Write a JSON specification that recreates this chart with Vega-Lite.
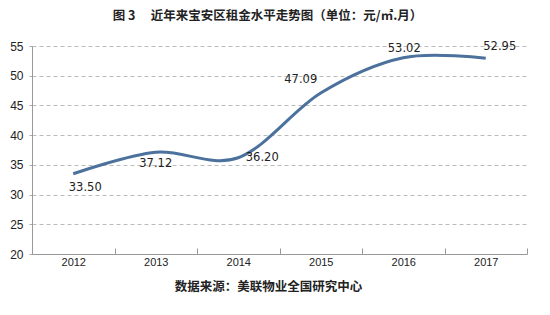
{
  "$schema": "https://vega.github.io/schema/vega-lite/v6.json",
  "autosize": "none",
  "width": 495,
  "height": 208,
  "padding": {"left": 32, "top": 46, "right": 23, "bottom": 61},
  "background": "white",
  "title": {
    "text": "图 3\u3000 近年来宝安区租金水平走势图（单位：元/㎡.月）",
    "font": "Noto Sans CJK SC",
    "fontSize": 12.5,
    "fontWeight": "bold",
    "color": "#222222",
    "anchor": "middle",
    "dx": -12,
    "offset": 18
  },
  "data": {
    "values": [
      {"year": "2012", "rent": 33.50, "label": "33.50"},
      {"year": "2013", "rent": 37.12, "label": "37.12"},
      {"year": "2014", "rent": 36.20, "label": "36.20"},
      {"year": "2015", "rent": 47.09, "label": "47.09"},
      {"year": "2016", "rent": 53.02, "label": "53.02"},
      {"year": "2017", "rent": 52.95, "label": "52.95"}
    ]
  },
  "encoding": {
    "x": {
      "field": "year",
      "type": "ordinal",
      "scale": {"paddingInner": 0, "paddingOuter": 0},
      "axis": {
        "title": "数据来源：美联物业全国研究中心",
        "titleFont": "Noto Sans CJK SC",
        "titleFontSize": 12.5,
        "titleFontWeight": "bold",
        "titleColor": "#222222",
        "titlePadding": 13,
        "titleX": 236,
        "labelAngle": 0,
        "labelFont": "Liberation Sans",
        "labelFontSize": 11,
        "labelColor": "#222222",
        "labelPadding": 8,
        "tickBand": "extent",
        "tickSize": -6,
        "tickColor": "#999999",
        "domainColor": "#999999",
        "grid": false
      }
    },
    "y": {
      "field": "rent",
      "type": "quantitative",
      "scale": {"domain": [20, 55], "nice": false},
      "axis": {
        "title": null,
        "values": [20, 25, 30, 35, 40, 45, 50, 55],
        "labelFont": "Liberation Sans",
        "labelFontSize": 12,
        "labelColor": "#222222",
        "labelPadding": 6,
        "tickSize": 3,
        "tickColor": "#aaaaaa",
        "domainColor": "#999999",
        "grid": true,
        "gridDash": [4, 3],
        "gridColor": "#bbbbbb"
      }
    }
  },
  "layer": [
    {
      "mark": {"type": "line", "interpolate": "cardinal", "strokeWidth": 3, "color": "#4b719c"}
    },
    {
      "transform": [{"filter": "datum.year == '2012'"}],
      "mark": {"type": "text", "dx": 12, "dy": 14, "font": "DejaVu Sans", "fontSize": 11.5, "color": "#222222"},
      "encoding": {"text": {"field": "label"}}
    },
    {
      "transform": [{"filter": "datum.year == '2013'"}],
      "mark": {"type": "text", "dx": 0, "dy": 12, "font": "DejaVu Sans", "fontSize": 11.5, "color": "#222222"},
      "encoding": {"text": {"field": "label"}}
    },
    {
      "transform": [{"filter": "datum.year == '2014'"}],
      "mark": {"type": "text", "dx": 24, "dy": 0, "font": "DejaVu Sans", "fontSize": 11.5, "color": "#222222"},
      "encoding": {"text": {"field": "label"}}
    },
    {
      "transform": [{"filter": "datum.year == '2015'"}],
      "mark": {"type": "text", "dx": -20, "dy": -13, "font": "DejaVu Sans", "fontSize": 11.5, "color": "#222222"},
      "encoding": {"text": {"field": "label"}}
    },
    {
      "transform": [{"filter": "datum.year == '2016'"}],
      "mark": {"type": "text", "dx": 1, "dy": -9, "font": "DejaVu Sans", "fontSize": 11.5, "color": "#222222"},
      "encoding": {"text": {"field": "label"}}
    },
    {
      "transform": [{"filter": "datum.year == '2017'"}],
      "mark": {"type": "text", "dx": 14, "dy": -11, "font": "DejaVu Sans", "fontSize": 11.5, "color": "#222222"},
      "encoding": {"text": {"field": "label"}}
    }
  ],
  "config": {"view": {"stroke": null}}
}
